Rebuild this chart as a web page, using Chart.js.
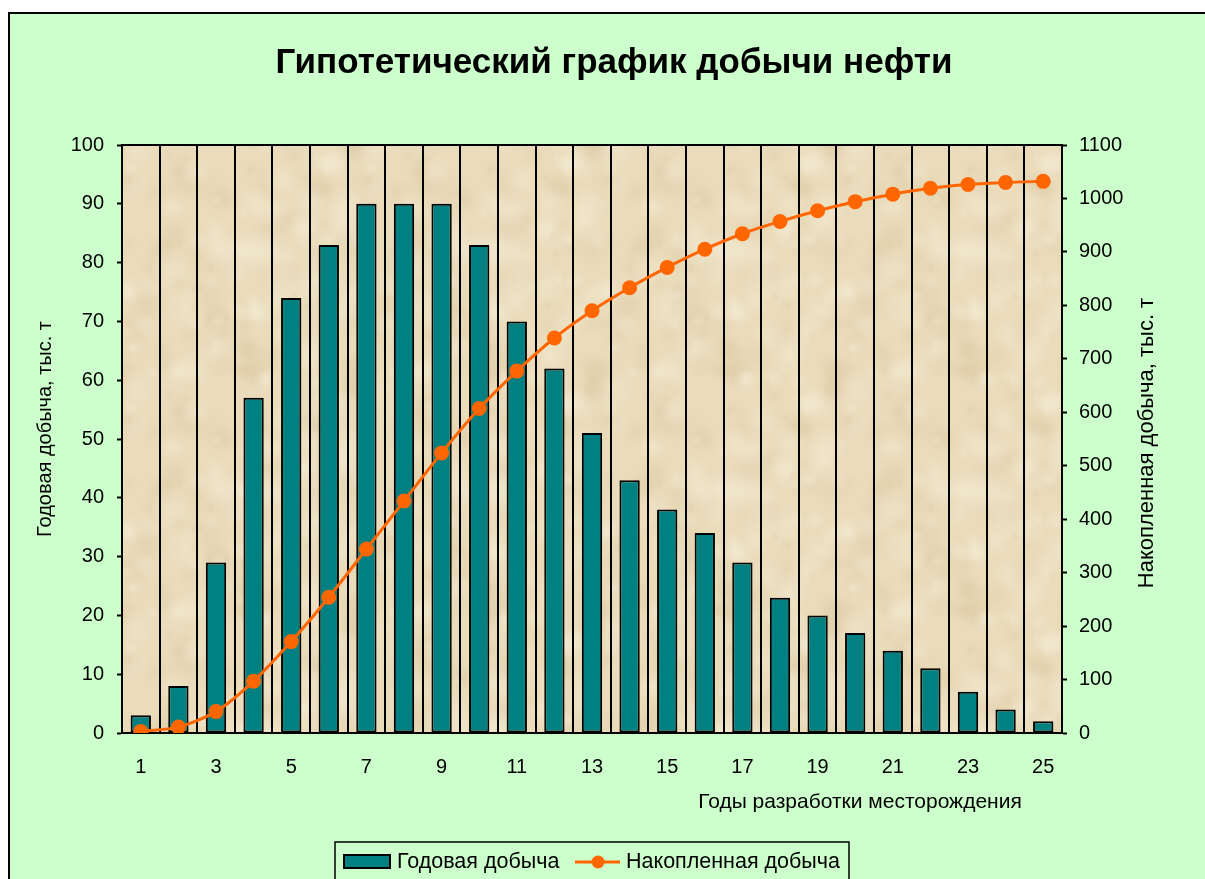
<!DOCTYPE html>
<html lang="ru">
<head>
<meta charset="utf-8">
<title>Гипотетический график добычи нефти</title>
<script src="https://cdn.jsdelivr.net/npm/chart.js@4/dist/chart.umd.min.js"></script>
<style>
  html, body { margin: 0; padding: 0; background: #ffffff; }
  canvas { display: block; }
</style>
</head>
<body>
<canvas id="oilChart" width="1205" height="879"></canvas>
<script>
// Годы разработки (категории оси X)
const years = ['1','2','3','4','5','6','7','8','9','10','11','12','13',
               '14','15','16','17','18','19','20','21','22','23','24','25'];

// Годовая добыча, тыс. т
const annualOutput = [3, 8, 29, 57, 74, 83, 90, 90, 90, 83, 70, 62, 51,
                      43, 38, 34, 29, 23, 20, 17, 14, 11, 7, 4, 2];

// Накопленная добыча, тыс. т
const cumulativeOutput = [3, 11, 40, 97, 171, 254, 344, 434, 524, 607, 677, 739, 790,
                          833, 871, 905, 934, 957, 977, 994, 1008, 1019, 1026, 1030, 1032];

const FONT = '"Liberation Sans", Arial, sans-serif';
const TEAL = '#008080';
const ORANGE = '#FF6600';
const TILE = 240;

/**
 * Builds a parchment-like fill for the plot area
 */
function makeParchment(ctx) {
  const tile = document.createElement('canvas');
  tile.width = TILE;
  tile.height = TILE;
  const t = tile.getContext('2d');
  t.fillStyle = '#EADCBB';
  t.fillRect(0, 0, TILE, TILE);
  // soft blotches from a fixed hash so the texture is stable
  const hash = n => {
    const s = Math.sin(n * 127.1 + 311.7) * 43758.5453;
    return s - Math.floor(s);
  };
  for (let i = 0; i < 160; i++) {
    const cx = hash(i) * TILE;
    const cy = hash(i + 500) * TILE;
    const r = 5 + hash(i + 1000) * 18;
    const light = hash(i + 1500) > 0.45;
    const c = light ? '244,236,214' : '218,198,160';
    const alpha = light ? 0.45 : 0.3;
    // draw wrapped copies so the tile has no seams
    for (const dx of [-TILE, 0, TILE]) {
      for (const dy of [-TILE, 0, TILE]) {
        const x = cx + dx, y = cy + dy;
        if (x + r < 0 || x - r > TILE || y + r < 0 || y - r > TILE) continue;
        const g = t.createRadialGradient(x, y, 0, x, y, r);
        g.addColorStop(0, 'rgba(' + c + ',' + alpha + ')');
        g.addColorStop(1, 'rgba(' + c + ',0)');
        t.fillStyle = g;
        t.fillRect(x - r, y - r, r * 2, r * 2);
      }
    }
  }
  return ctx.createPattern(tile, 'repeat');
}

/**
 * Frame, plot background, titles and legend box
 */
const decorPlugin = {
  id: 'decor',
  beforeDraw(chart) {
    const { ctx, chartArea: a } = chart;
    ctx.save();
    // light green sheet with a black border
    ctx.fillStyle = '#CCFFCC';
    ctx.fillRect(9, 13, chart.width, chart.height);
    ctx.strokeStyle = '#000';
    ctx.lineWidth = 2;
    ctx.strokeRect(9, 13, chart.width + 10, chart.height + 10);
    // parchment plot area
    ctx.fillStyle = makeParchment(ctx);
    ctx.fillRect(a.left, a.top, a.right - a.left, a.bottom - a.top);
    ctx.restore();
  },
  beforeDatasetsDraw(chart) {
    const { ctx, chartArea: a } = chart;
    ctx.save();
    ctx.strokeStyle = '#000';
    ctx.lineWidth = 2;
    ctx.strokeRect(a.left, a.top, a.right - a.left, a.bottom - a.top);
    ctx.restore();
  },
  afterDraw(chart) {
    const { ctx } = chart;
    ctx.save();
    ctx.fillStyle = '#000';
    ctx.textAlign = 'center';
    ctx.textBaseline = 'middle';

    ctx.font = 'bold 35px ' + FONT;
    ctx.fillText('Гипотетический график добычи нефти', 614, 63);

    ctx.font = '21px ' + FONT;
    ctx.fillText('Годы разработки месторождения', 860, 802);

    // both vertical titles read bottom to top
    ctx.save();
    ctx.font = '20px ' + FONT;
    ctx.translate(45, 429);
    ctx.rotate(-Math.PI / 2);
    ctx.fillText('Годовая добыча, тыс. т', 0, 0);
    ctx.restore();

    ctx.save();
    ctx.font = '22px ' + FONT;
    ctx.translate(1147, 443);
    ctx.rotate(-Math.PI / 2);
    ctx.fillText('Накопленная добыча, тыс. т', 0, 0);
    ctx.restore();

    // legend
    ctx.fillStyle = '#CCFFCC';
    ctx.fillRect(335, 842, 514, 50);
    ctx.strokeStyle = '#000';
    ctx.lineWidth = 1.5;
    ctx.strokeRect(335, 842, 514, 50);

    const [barSet, lineSet] = chart.data.datasets;
    ctx.fillStyle = barSet.backgroundColor;
    ctx.fillRect(344, 855, 46, 13);
    ctx.lineWidth = 2;
    ctx.strokeStyle = '#000';
    ctx.strokeRect(344, 855, 46, 13);

    ctx.font = '21.5px ' + FONT;
    ctx.textAlign = 'left';
    ctx.fillStyle = '#000';
    ctx.fillText(barSet.label, 397, 862);

    ctx.strokeStyle = lineSet.borderColor;
    ctx.lineWidth = 3;
    ctx.beginPath();
    ctx.moveTo(575, 862);
    ctx.lineTo(620, 862);
    ctx.stroke();
    ctx.fillStyle = lineSet.pointBackgroundColor;
    ctx.beginPath();
    ctx.arc(598, 862, 6.5, 0, Math.PI * 2);
    ctx.fill();

    ctx.fillStyle = '#000';
    ctx.fillText(lineSet.label, 626, 862);
    ctx.restore();
  }
};

const tickFont = { family: FONT, size: 20 };

function initChart() {
  const ctx = document.getElementById('oilChart').getContext('2d');
  return new Chart(ctx, {
    type: 'bar',
    data: {
      labels: years,
      datasets: [{
        type: 'bar',
        label: 'Годовая добыча',
        data: annualOutput,
        yAxisID: 'y',
        backgroundColor: TEAL,
        borderColor: '#000',
        borderWidth: 2,
        borderSkipped: false,
        categoryPercentage: 1,
        barPercentage: 0.54,
        order: 2
      }, {
        type: 'line',
        label: 'Накопленная добыча',
        data: cumulativeOutput,
        yAxisID: 'y2',
        borderColor: ORANGE,
        borderWidth: 3,
        backgroundColor: ORANGE,
        pointBackgroundColor: ORANGE,
        pointBorderColor: ORANGE,
        pointRadius: 7.5,
        pointBorderWidth: 0,
        tension: 0.25,
        order: 1
      }]
    },
    options: {
      responsive: false,
      animation: false,
      layout: { padding: { top: 145, left: 0, right: 0, bottom: 0 } },
      plugins: {
        legend: { display: false },
        title: { display: false },
        tooltip: { enabled: false }
      },
      scales: {
        x: {
          afterFit(scale) { scale.height = 146; },
          grid: {
            color: '#000',
            lineWidth: 2,
            drawTicks: false,
            offset: true
          },
          border: { color: '#000', width: 2 },
          ticks: {
            autoSkip: false,
            maxRotation: 0,
            padding: 22,
            color: '#000',
            font: tickFont,
            callback(value, index) {
              return index % 2 === 0 ? this.getLabelForValue(value) : '';
            }
          }
        },
        y: {
          position: 'left',
          min: 0,
          max: 100,
          afterFit(scale) { scale.width = 122; },
          grid: {
            drawOnChartArea: false,
            drawTicks: true,
            tickLength: 5,
            tickWidth: 2,
            tickColor: '#000'
          },
          border: { color: '#000', width: 2 },
          ticks: {
            stepSize: 10,
            padding: 13,
            color: '#000',
            font: tickFont,
            callback: value => String(value)
          }
        },
        y2: {
          position: 'right',
          min: 0,
          max: 1100,
          afterFit(scale) { scale.width = 143; },
          grid: {
            drawOnChartArea: false,
            drawTicks: true,
            tickLength: 5,
            tickWidth: 2,
            tickColor: '#000'
          },
          border: { color: '#000', width: 2 },
          ticks: {
            stepSize: 100,
            padding: 12,
            color: '#000',
            font: tickFont,
            callback: value => String(value)
          }
        }
      }
    },
    plugins: [decorPlugin]
  });
}

document.addEventListener('DOMContentLoaded', initChart);
</script>
</body>
</html>
